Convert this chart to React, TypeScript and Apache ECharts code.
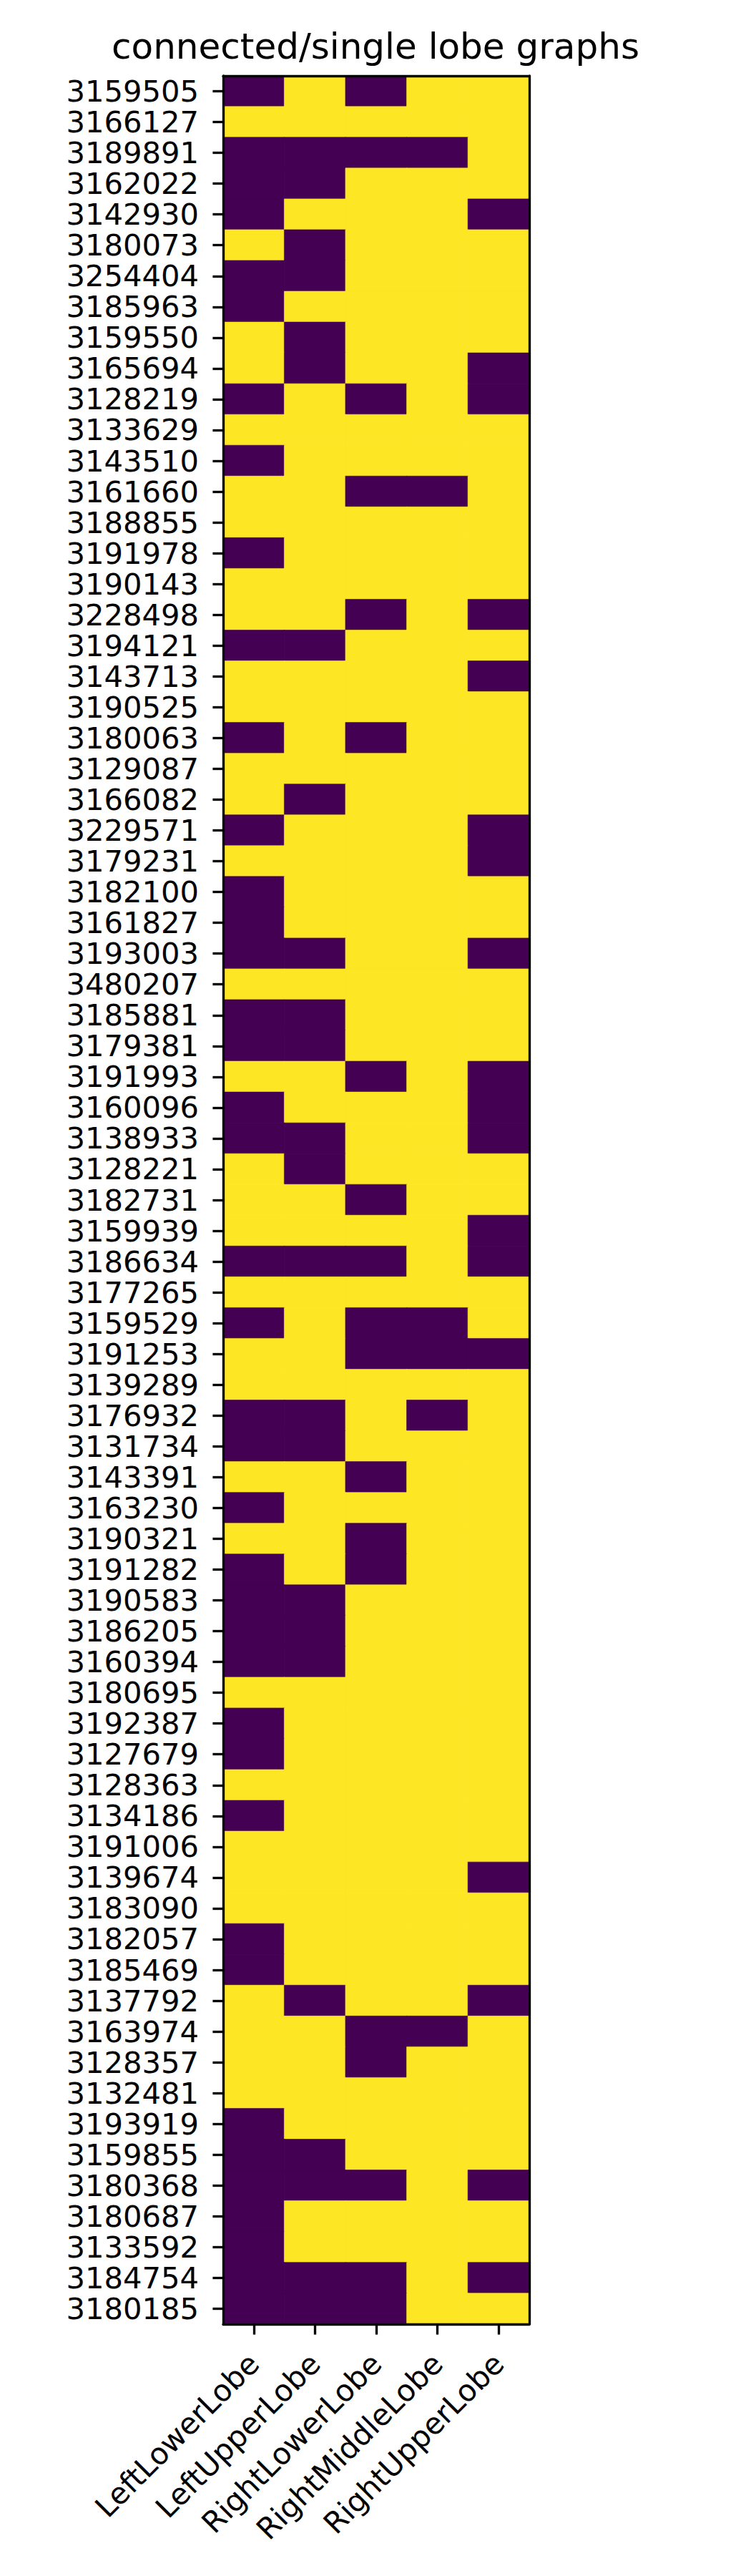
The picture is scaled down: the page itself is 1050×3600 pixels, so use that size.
import React, { useEffect, useRef } from "react";
import * as echarts from "echarts";

const chartTitle = "connected/single lobe graphs";

const lobes = ["LeftLowerLobe", "LeftUpperLobe", "RightLowerLobe", "RightMiddleLobe", "RightUpperLobe"];

const patients = [
  "3159505", "3166127", "3189891", "3162022", "3142930", "3180073", "3254404", "3185963",
  "3159550", "3165694", "3128219", "3133629", "3143510", "3161660", "3188855", "3191978",
  "3190143", "3228498", "3194121", "3143713", "3190525", "3180063", "3129087", "3166082",
  "3229571", "3179231", "3182100", "3161827", "3193003", "3480207", "3185881", "3179381",
  "3191993", "3160096", "3138933", "3128221", "3182731", "3159939", "3186634", "3177265",
  "3159529", "3191253", "3139289", "3176932", "3131734", "3143391", "3163230", "3190321",
  "3191282", "3190583", "3186205", "3160394", "3180695", "3192387", "3127679", "3128363",
  "3134186", "3191006", "3139674", "3183090", "3182057", "3185469", "3137792", "3163974",
  "3128357", "3132481", "3193919", "3159855", "3180368", "3180687", "3133592", "3184754",
  "3180185",
];

// one row per patient, one value per lobe (0 = dark, 1 = yellow)
const lobeValues: number[][] = [
  [0, 1, 0, 1, 1], [1, 1, 1, 1, 1], [0, 0, 0, 0, 1], [0, 0, 1, 1, 1], [0, 1, 1, 1, 0],
  [1, 0, 1, 1, 1], [0, 0, 1, 1, 1], [0, 1, 1, 1, 1], [1, 0, 1, 1, 1], [1, 0, 1, 1, 0],
  [0, 1, 0, 1, 0], [1, 1, 1, 1, 1], [0, 1, 1, 1, 1], [1, 1, 0, 0, 1], [1, 1, 1, 1, 1],
  [0, 1, 1, 1, 1], [1, 1, 1, 1, 1], [1, 1, 0, 1, 0], [0, 0, 1, 1, 1], [1, 1, 1, 1, 0],
  [1, 1, 1, 1, 1], [0, 1, 0, 1, 1], [1, 1, 1, 1, 1], [1, 0, 1, 1, 1], [0, 1, 1, 1, 0],
  [1, 1, 1, 1, 0], [0, 1, 1, 1, 1], [0, 1, 1, 1, 1], [0, 0, 1, 1, 0], [1, 1, 1, 1, 1],
  [0, 0, 1, 1, 1], [0, 0, 1, 1, 1], [1, 1, 0, 1, 0], [0, 1, 1, 1, 0], [0, 0, 1, 1, 0],
  [1, 0, 1, 1, 1], [1, 1, 0, 1, 1], [1, 1, 1, 1, 0], [0, 0, 0, 1, 0], [1, 1, 1, 1, 1],
  [0, 1, 0, 0, 1], [1, 1, 0, 0, 0], [1, 1, 1, 1, 1], [0, 0, 1, 0, 1], [0, 0, 1, 1, 1],
  [1, 1, 0, 1, 1], [0, 1, 1, 1, 1], [1, 1, 0, 1, 1], [0, 1, 0, 1, 1], [0, 0, 1, 1, 1],
  [0, 0, 1, 1, 1], [0, 0, 1, 1, 1], [1, 1, 1, 1, 1], [0, 1, 1, 1, 1], [0, 1, 1, 1, 1],
  [1, 1, 1, 1, 1], [0, 1, 1, 1, 1], [1, 1, 1, 1, 1], [1, 1, 1, 1, 0], [1, 1, 1, 1, 1],
  [0, 1, 1, 1, 1], [0, 1, 1, 1, 1], [1, 0, 1, 1, 0], [1, 1, 0, 0, 1], [1, 1, 0, 1, 1],
  [1, 1, 1, 1, 1], [0, 1, 1, 1, 1], [0, 0, 1, 1, 1], [0, 0, 0, 1, 0], [0, 1, 1, 1, 1],
  [0, 1, 1, 1, 1], [0, 0, 0, 1, 0], [0, 0, 0, 1, 1],
];

const palette = ["#440154", "#fde725"];

const FONT = "DejaVu Sans";
const LW = 3.33;

export default function App() {
  const ref = useRef<HTMLDivElement>(null);

  useEffect(() => {
    document.body.style.margin = "0";
    if (!ref.current) return;
    const chart = echarts.init(ref.current, undefined, { renderer: "svg" });

    const data: any[] = [];
    lobeValues.forEach((row, yi) => {
      row.forEach((v, xi) => {
        data.push({
          value: [xi, yi, v],
          itemStyle: { borderColor: palette[v], borderWidth: 0.6 },
        });
      });
    });

    const option: any = {
      animation: false,
      backgroundColor: "#ffffff",
      title: {
        text: chartTitle,
        left: "center",
        top: 40,
        padding: 0,
        textStyle: { fontSize: 50, fontWeight: "normal", fontFamily: FONT, color: "#000" },
      },
      grid: { left: 312, top: 106, width: 428, height: 3142, containLabel: false },
      visualMap: {
        type: "continuous",
        show: false,
        min: 0,
        max: 1,
        dimension: 2,
        inRange: { color: palette },
      },
      xAxis: [
        {
          type: "category",
          data: lobes,
          position: "bottom",
          z: 10,
          axisLine: { show: true, lineStyle: { color: "#000", width: LW } },
          axisTick: { show: true, alignWithLabel: true, interval: 0, length: 14.6, lineStyle: { color: "#000", width: LW } },
          axisLabel: {
            interval: 0,
            rotate: 45,
            margin: 48,
            fontSize: 41.67,
            fontFamily: FONT,
            color: "#000",
          },
          splitLine: { show: false },
          splitArea: { show: false },
        },
        {
          type: "category",
          data: lobes,
          position: "top",
          z: 10,
          axisLine: { show: true, lineStyle: { color: "#000", width: LW } },
          axisTick: { show: false },
          axisLabel: { show: false },
          splitLine: { show: false },
        },
      ],
      yAxis: [
        {
          type: "category",
          data: patients,
          inverse: true,
          position: "left",
          z: 10,
          axisLine: { show: true, lineStyle: { color: "#000", width: LW } },
          axisTick: { show: true, alignWithLabel: true, interval: 0, length: 14.6, lineStyle: { color: "#000", width: LW } },
          axisLabel: { interval: 0, margin: 34, fontSize: 41.67, fontFamily: FONT, color: "#000" },
          splitLine: { show: false },
          splitArea: { show: false },
        },
        {
          type: "category",
          data: patients,
          inverse: true,
          position: "right",
          z: 10,
          axisLine: { show: true, lineStyle: { color: "#000", width: LW } },
          axisTick: { show: false },
          axisLabel: { show: false },
          splitLine: { show: false },
        },
      ],
      series: [
        {
          type: "heatmap",
          xAxisIndex: 0,
          yAxisIndex: 0,
          data,
          silent: true,
          emphasis: { disabled: true },
          label: { show: false },
        },
      ],
    };

    chart.setOption(option);
    return () => chart.dispose();
  }, []);

  return <div ref={ref} style={{ width: 1050, height: 3600 }} />;
}
